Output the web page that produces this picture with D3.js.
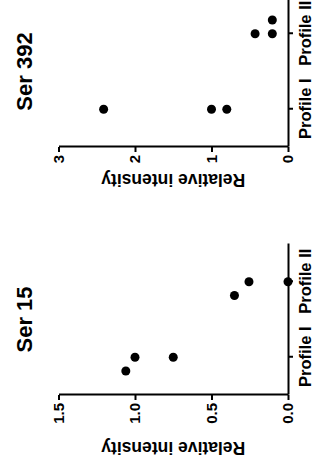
<!DOCTYPE html>
<html>
<head>
<meta charset="utf-8">
<script src="https://cdn.jsdelivr.net/npm/d3@7"></script>
<style>
  body { margin: 0; background: #fff; }
  text { font-family: "Liberation Sans", Arial, Helvetica, sans-serif; font-weight: bold; fill: #000; }
</style>
</head>
<body>
<div id="chart"></div>
<script>
// categories
const groups = ["Profile I", "Profile II"];

// Ser 15 points (slot = side-by-side spread of overlapping points)
const ser15Group = ["Profile I", "Profile I", "Profile I", "Profile II", "Profile II", "Profile II"];
const ser15Value = [1.00, 0.75, 1.06, 0.35, 0.255, 0.00];
const ser15Slot  = [0, 0, -1, -1, 0, 0];
const ser15Ticks = [0, 0.5, 1.0, 1.5];

// Ser 392 points
const ser392Group = ["Profile I", "Profile I", "Profile I", "Profile II", "Profile II", "Profile II"];
const ser392Value = [2.41, 1.00, 0.80, 0.43, 0.205, 0.205];
const ser392Slot  = [0, 0, 0, 0, 0, 1];
const ser392Ticks = [0, 1, 2, 3];

const W = 327, H = 468;

// the figure is drawn upright (468 wide x 327 high) and turned a quarter to the left
const svg = d3.select("#chart").append("svg")
    .attr("width", W)
    .attr("height", H);

const root = svg.append("g")
    .attr("transform", "translate(0," + H + ") rotate(-90)");

const panels = [
    { title: "Ser 15", group: ser15Group, value: ser15Value, slot: ser15Slot, ticks: ser15Ticks, fmt: d3.format(".1f"), left: 73, titleGap: 18 },
    { title: "Ser 392", group: ser392Group, value: ser392Value, slot: ser392Slot, ticks: ser392Ticks, fmt: d3.format("d"), left: 321, titleGap: 11 }
];

const plotTop = 58.5, plotBottom = 288, plotWidth = 151, spread = 13.7;

panels.forEach(function (p) {
    const g = root.append("g");

    const yScale = d3.scaleLinear()
        .domain([0, d3.max(p.ticks)])
        .range([plotBottom, plotTop]);

    const xScale = d3.scalePoint()
        .domain(groups)
        .range([p.left, p.left + plotWidth])
        .padding(0.5);

    // value axis
    const yNode = g.append("g")
        .attr("transform", "translate(" + p.left + ",0)")
        .call(d3.axisLeft(yScale).tickValues(p.ticks).tickFormat(p.fmt).tickSize(5).tickSizeOuter(0).tickPadding(3));
    yNode.selectAll("path, line").style("stroke", "#000").style("stroke-width", 2);
    yNode.selectAll("text").style("font-size", "15px").attr("font-family", null);

    // category axis
    const xNode = g.append("g")
        .attr("transform", "translate(0," + plotBottom + ")")
        .call(d3.axisBottom(xScale).tickSize(5).tickSizeOuter(0).tickPadding(6));
    xNode.selectAll("path, line").style("stroke", "#000").style("stroke-width", 2);
    xNode.selectAll("text").style("font-size", "16.5px").attr("font-family", null);

    // axis title placed just outside the tick labels
    let minX = Infinity;
    yNode.selectAll("text").each(function () {
        const b = this.getBBox();
        minX = Math.min(minX, p.left + b.x);
    });
    g.append("text")
        .attr("transform", "translate(" + (minX - p.titleGap) + "," + ((plotTop + plotBottom) / 2) + ") rotate(-90)")
        .attr("text-anchor", "middle")
        .style("font-size", "17.5px")
        .text("Relative intensity");

    // chart title
    g.append("text")
        .attr("x", p.left + plotWidth / 2)
        .attr("y", 32)
        .attr("text-anchor", "middle")
        .style("font-size", "22px")
        .text(p.title);

    // points
    g.selectAll(".dot")
        .data(d3.range(p.value.length))
        .enter().append("circle")
        .attr("class", "dot")
        .attr("r", 4.5)
        .attr("cx", function (i) { return xScale(p.group[i]) + p.slot[i] * spread; })
        .attr("cy", function (i) { return yScale(p.value[i]); })
        .style("fill", "#000");
});
</script>
</body>
</html>
